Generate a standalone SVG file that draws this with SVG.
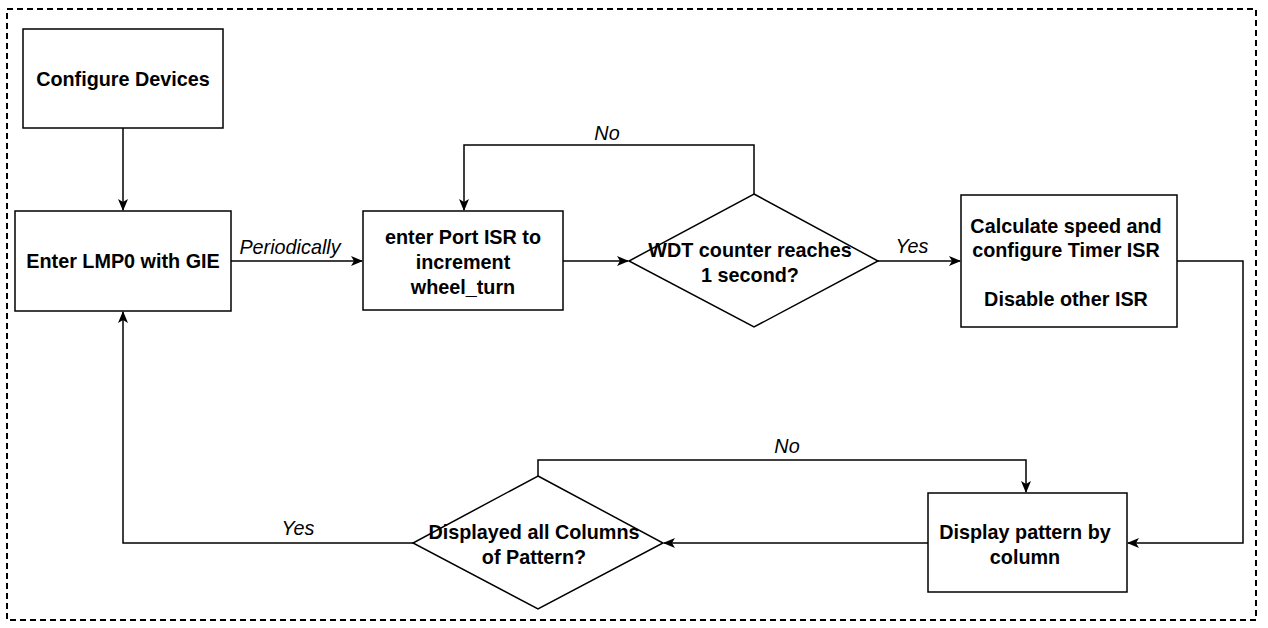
<svg xmlns="http://www.w3.org/2000/svg" width="1268" height="628" viewBox="0 0 1268 628">
<style>
.n{fill:#fff;stroke:#000;stroke-width:1.5}
.t{font-family:"Liberation Sans",Arial,sans-serif;font-size:19.8px;font-weight:bold;text-anchor:middle;fill:#000}
.l{font-family:"Liberation Sans",Arial,sans-serif;font-size:19.8px;font-style:italic;text-anchor:middle;fill:#000}
.c{fill:none;stroke:#000;stroke-width:1.5}
</style>
<defs>
<marker id="a" viewBox="0 0 12 12" refX="11" refY="6" markerWidth="12" markerHeight="12" markerUnits="userSpaceOnUse" orient="auto">
<path d="M0,1 L12,6 L0,11 L3,6 Z" fill="#000"/>
</marker>
</defs>
<rect x="7" y="9" width="1249" height="611" fill="none" stroke="#000" stroke-width="2" stroke-dasharray="6,4"/>
<g id="connectors">
<path class="c" d="M123,128 V210" marker-end="url(#a)"/>
<path class="c" d="M231,261 H362" marker-end="url(#a)"/>
<path class="c" d="M563,261 H628" marker-end="url(#a)"/>
<path class="c" d="M754,194 V145 H464 V210" marker-end="url(#a)"/>
<path class="c" d="M878,261 H960" marker-end="url(#a)"/>
<path class="c" d="M1177,261 H1243 V543 H1128" marker-end="url(#a)"/>
<path class="c" d="M928,543 H664" marker-end="url(#a)"/>
<path class="c" d="M538,476 V460 H1026 V492" marker-end="url(#a)"/>
<path class="c" d="M413,543 H123 V312" marker-end="url(#a)"/>
<text class="l" x="290" y="254">Periodically</text>
<text class="l" x="607" y="140">No</text>
<text class="l" x="912" y="253">Yes</text>
<text class="l" x="787" y="453">No</text>
<text class="l" x="298" y="535">Yes</text>
</g>
<g id="configure">
<rect class="n" x="23" y="29" width="200" height="99"/>
<text class="t" x="123" y="86">Configure Devices</text>
</g>
<g id="enter-lmp0">
<rect class="n" x="15" y="211" width="216" height="100"/>
<text class="t" x="123" y="268">Enter LMP0 with GIE</text>
</g>
<g id="port-isr">
<rect class="n" x="363" y="211" width="200" height="99"/>
<text class="t" x="463" y="244">enter Port ISR to</text>
<text class="t" x="463" y="269">increment</text>
<text class="t" x="463" y="294">wheel_turn</text>
</g>
<g id="wdt">
<polygon class="n" points="754,194 878,261 754,327 629,261"/>
<text class="t" x="750" y="257">WDT counter reaches</text>
<text class="t" x="750" y="282">1 second?</text>
</g>
<g id="calc">
<rect class="n" x="961" y="195" width="216" height="132"/>
<text class="t" x="1066" y="233">Calculate speed and</text>
<text class="t" x="1066" y="257">configure Timer ISR</text>
<text class="t" x="1066" y="306">Disable other ISR</text>
</g>
<g id="display">
<rect class="n" x="928" y="493" width="199" height="99"/>
<text class="t" x="1025" y="539">Display pattern by</text>
<text class="t" x="1025" y="564">column</text>
</g>
<g id="displayed-all">
<polygon class="n" points="538,476 663,543 538,609 413,543"/>
<text class="t" x="534" y="539">Displayed all Columns</text>
<text class="t" x="534" y="564">of Pattern?</text>
</g>
</svg>
